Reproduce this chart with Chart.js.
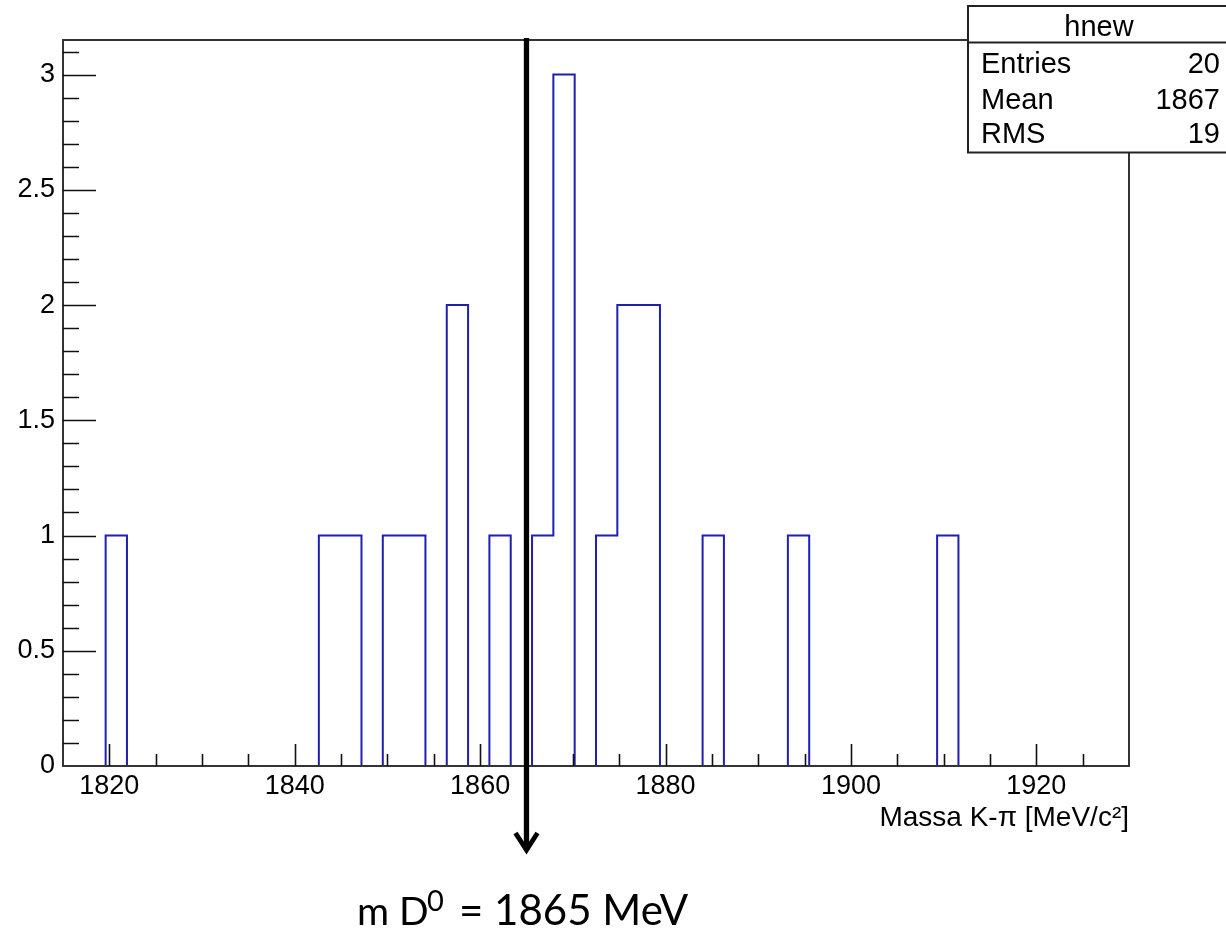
<!DOCTYPE html>
<html><head><meta charset="utf-8">
<script src="https://cdn.jsdelivr.net/npm/chart.js@4"></script>
<style>html,body{margin:0;padding:0;background:#fff;} canvas{display:block;}</style>
</head><body>
<canvas id="c" width="1226" height="931"></canvas>
<script>
// ---- data ----
const histName = 'hnew';
const xMin = 1815, xMax = 1930, binWidth = 2.3;
const binCounts = [
  0,0,1,0,0,0,0,0,0,0,
  0,0,1,1,0,1,1,0,2,0,
  1,0,1,3,0,1,2,2,0,0,
  1,0,0,0,1,0,0,0,0,0,
  0,1,0,0,0,0,0,0,0,0
];
const xTickValues = [1820, 1840, 1860, 1880, 1900, 1920];
const yTickValues = [0, 0.5, 1, 1.5, 2, 2.5, 3];
const yTickLabels = ['0', '0.5', '1', '1.5', '2', '2.5', '3'];
const yMax = 3.15;
const statsLabels = ['Entries', 'Mean', 'RMS'];
const statsValues = ['20', '1867', '19'];
const massD0 = 1865;
const xTitle = 'Massa K-\u03C0 [MeV/c\u00B2]';
const noteMain = 'm D', noteSup = '0', noteRest = '= 1865 MeV';

// step points: each point is a bin's left edge with the bin content,
// drawn with 'before' stepping (horizontal at previous value first)
const histPoints = [{x: xMin, y: 0}];
binCounts.forEach((c, i) => {
  histPoints.push({x: xMin + i * binWidth, y: c});
});
histPoints.push({x: xMax, y: binCounts[binCounts.length - 1]});
histPoints.push({x: xMax, y: 0});

const FONT = "'Liberation Sans', Arial, Helvetica, sans-serif";
const NOTE_FONT = "Lato, 'Open Sans', sans-serif";

const rootPlugin = {
  id: 'rootStyle',
  afterDatasetsDraw(chart) {
    const {ctx, chartArea: a, scales: {x, y}} = chart;
    ctx.save();
    // frame
    ctx.strokeStyle = '#333';
    ctx.lineWidth = 2;
    ctx.strokeRect(a.left, a.top, a.right - a.left, a.bottom - a.top);
    // ticks (inward)
    ctx.strokeStyle = '#111';
    ctx.lineWidth = 1.6;
    ctx.beginPath();
    for (let k = 1; k < 23; k++) {
      const v = xMin + 5 * k;
      const px = Math.round(x.getPixelForValue(v)) + 0.5;
      const len = (v % 20 === 0) ? 22 : 12;
      ctx.moveTo(px, a.bottom);
      ctx.lineTo(px, a.bottom - len);
    }
    for (let k = 1; k <= 31; k++) {
      const py = Math.round(y.getPixelForValue(k / 10)) + 0.5;
      const len = (k % 5 === 0) ? 33 : 16;
      ctx.moveTo(a.left, py);
      ctx.lineTo(a.left + len, py);
    }
    ctx.stroke();

    // arrow at m(D0)
    const ax = x.getPixelForValue(massD0);
    ctx.strokeStyle = '#000';
    ctx.lineWidth = 5.3;
    ctx.lineCap = 'butt';
    ctx.beginPath();
    ctx.moveTo(ax, 38);
    ctx.lineTo(ax, 850);
    ctx.stroke();
    ctx.lineWidth = 4.8;
    ctx.lineJoin = 'miter';
    ctx.beginPath();
    ctx.moveTo(ax - 11, 833);
    ctx.lineTo(ax, 850);
    ctx.lineTo(ax + 11, 833);
    ctx.stroke();

    // stats box
    const bx = 968, by = 6, bw = 262, bh = 146.5;
    ctx.fillStyle = '#fff';
    ctx.fillRect(bx, by, bw, bh);
    ctx.strokeStyle = '#222';
    ctx.lineWidth = 2;
    ctx.strokeRect(bx, by, bw, bh);
    ctx.beginPath();
    ctx.moveTo(bx, 42.5);
    ctx.lineTo(bx + bw, 42.5);
    ctx.stroke();
    ctx.fillStyle = '#000';
    ctx.font = '29px ' + FONT;
    ctx.textBaseline = 'alphabetic';
    ctx.textAlign = 'center';
    ctx.fillText(histName, 1099, 36);
    const rowBase = [73, 109, 143];
    statsLabels.forEach((lab, i) => {
      ctx.textAlign = 'left';
      ctx.fillText(lab, 981, rowBase[i]);
      ctx.textAlign = 'right';
      ctx.fillText(statsValues[i], 1220, rowBase[i]);
    });

    // note below
    ctx.textAlign = 'left';
    const base = 925;
    ctx.font = '39px ' + NOTE_FONT;
    ctx.fillText(noteMain, 357, base);
    ctx.font = '29px ' + NOTE_FONT;
    ctx.fillText(noteSup, 427, base - 14);
    ctx.font = '42px ' + NOTE_FONT;
    ctx.fillText(noteRest, 459, base);
    ctx.restore();
  }
};

new Chart(document.getElementById('c'), {
  type: 'line',
  data: {
    datasets: [{
      data: histPoints,
      stepped: 'before',
      borderColor: '#1f1fb2',
      borderWidth: 2,
      pointRadius: 0,
      fill: false,
      tension: 0
    }]
  },
  options: {
    responsive: false,
    animation: false,
    events: [],
    layout: {padding: {left: 0, top: 40, right: 97, bottom: 0}},
    plugins: {legend: {display: false}, tooltip: {enabled: false}, title: {display: false}},
    scales: {
      x: {
        type: 'linear', min: xMin, max: xMax,
        grid: {display: false, drawTicks: false},
        border: {display: false},
        afterBuildTicks: s => { s.ticks = xTickValues.map(v => ({value: v})); },
        afterFit: s => { s.height = 165; },
        ticks: {color: '#000', padding: 4, maxRotation: 0, autoSkip: false,
                font: {family: FONT, size: 27}, callback: v => String(v)},
        title: {display: true, text: xTitle, align: 'end', color: '#000',
                font: {family: FONT, size: 28}, padding: {top: 0, bottom: 96}}
      },
      y: {
        type: 'linear', min: 0, max: yMax,
        grid: {display: false, drawTicks: false},
        border: {display: false},
        afterBuildTicks: s => { s.ticks = yTickValues.map(v => ({value: v})); },
        afterFit: s => { s.width = 63; },
        ticks: {color: '#000', padding: 8, autoSkip: false,
                font: {family: FONT, size: 27},
                callback: v => yTickLabels[yTickValues.indexOf(v)]}
      }
    }
  },
  plugins: [rootPlugin]
});
</script>
</body></html>
